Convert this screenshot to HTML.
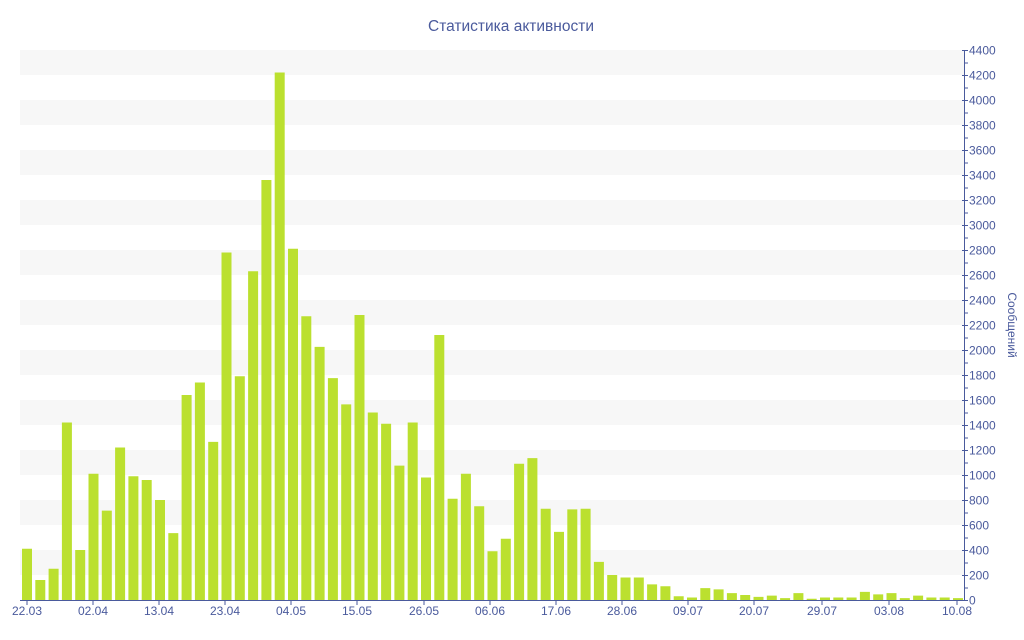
<!DOCTYPE html><html><head><meta charset="utf-8"><style>body{margin:0;background:#fff}svg{display:block}text{font-family:"Liberation Sans","DejaVu Sans",sans-serif;fill:#4a5a9c}</style></head><body>
<svg id="s" width="1024" height="640" xmlns="http://www.w3.org/2000/svg">
<text x="511" y="31" font-size="15.5" text-anchor="middle">Статистика активности</text>
<g id="g"></g>
<text transform="translate(1008,325) rotate(90)" font-size="12" text-anchor="middle">Сообщений</text>
</svg>
<script>
var v=[410,160,250,1420,400,1010,715,1220,990,960,800,535,1640,1740,1265,2780,1790,2630,3360,4220,2810,2270,2025,1775,1565,2280,1500,1410,1075,1420,980,2120,810,1010,750,390,490,1090,1135,730,545,725,730,305,200,180,180,125,110,30,20,95,85,55,40,25,35,15,55,10,20,20,20,65,45,55,15,35,20,20,15];
var h='';function Y(a){return 600-a*0.125}
for(var k=200;k<4400;k+=400)h+='<rect x="20" y="'+Y(k+200)+'" width="944" height="25" fill="#f7f7f7"/>';
v.forEach(function(a,i){var x=22+13.3*i;h+='<rect x="'+x.toFixed(1)+'" y="'+Y(a)+'" width="10" height="'+(a*0.125)+'" fill="#bbe02f"/>'});
h+='<line x1="20" y1="600.5" x2="964" y2="600.5" stroke="#4a5a9c"/><line x1="964.5" y1="50" x2="964.5" y2="600" stroke="#4a5a9c"/>';
for(var k=0;k<=4400;k+=100){var y=Y(k)+0.5;h+='<line x1="'+(k%200?965:962)+'" x2="'+(k%200?968:968)+'" y1="'+y+'" y2="'+y+'" stroke="#4a5a9c"/>';if(k%200==0)h+='<text x="969" y="'+(y+4)+'" font-size="12">'+k+'</text>'}
var L=['22.03','02.04','13.04','23.04','04.05','15.05','26.05','06.06','17.06','28.06','09.07','20.07','29.07','03.08','10.08'],X=[27,93,159,225,291,357,424,490,556,622,688,754,822,889,957];
L.forEach(function(t,i){h+='<line x1="'+X[i]+'" x2="'+X[i]+'" y1="600" y2="605" stroke="#4a5a9c"/><text x="'+X[i]+'" y="615" font-size="12" text-anchor="middle">'+t+'</text>'});
document.getElementById('g').innerHTML=h;
</script></body></html>
